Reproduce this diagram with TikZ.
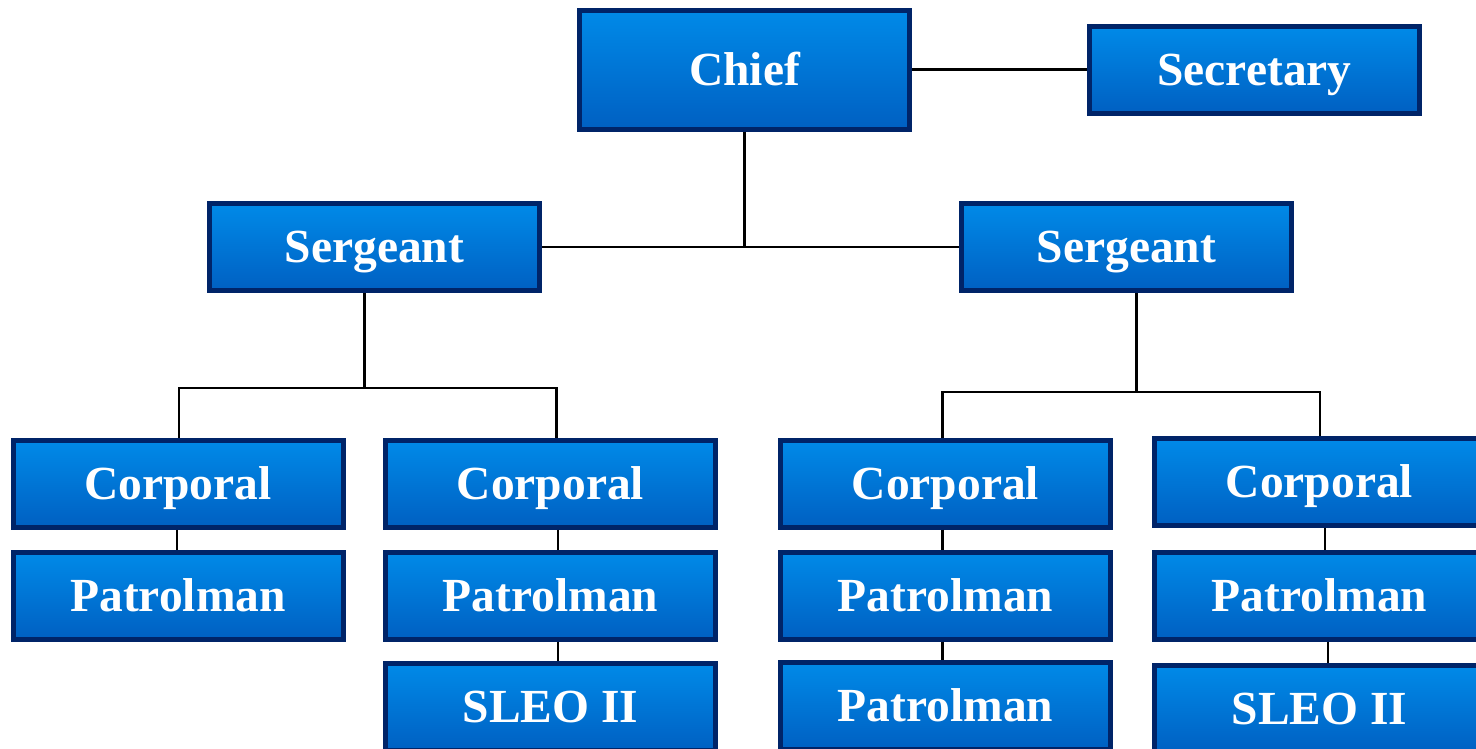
\documentclass[tikz,border=0pt]{standalone}
\usepackage{fontspec}
\setmainfont{Liberation Serif}
\usetikzlibrary{calc}
\definecolor{boxtop}{RGB}{0,138,232}
\definecolor{boxbot}{RGB}{0,96,194}
\definecolor{boxedge}{RGB}{0,36,104}
\tikzset{
  orgbox/.style={draw=boxedge, line width=5pt, top color=boxtop, bottom color=boxbot,
    minimum width=330pt, minimum height=87pt, inner sep=0pt,
    text height=31pt, text depth=0pt, text=white,
    font=\fontsize{47.5}{56}\selectfont\bfseries},
  link/.style={draw=black, line width=2.5pt}
}
\begin{document}
\begin{tikzpicture}[x=1pt,y=-1pt]
\useasboundingbox (0,0) rectangle (1476,748);
\node[orgbox, minimum height=119pt] (chief) at (744.5,69.5) {Chief};
\node[orgbox] (sec) at (1254.5,69.5) {Secretary};
\node[orgbox] (sgtL) at (374.5,247) {Sergeant};
\node[orgbox] (sgtR) at (1126.5,247) {Sergeant};
\node[orgbox] (c1) at (178,483.5) {Corporal};
\node[orgbox] (c2) at (550.5,483.5) {Corporal};
\node[orgbox] (c3) at (945.5,483.5) {Corporal};
\node[orgbox] (c4) at (1319.5,482) {Corporal};
\node[orgbox] (p1) at (178,595.5) {Patrolman};
\node[orgbox] (p2) at (550.5,595.5) {Patrolman};
\node[orgbox] (p3) at (945.5,595.5) {Patrolman};
\node[orgbox] (p4) at (1319.5,595.5) {Patrolman};
\node[orgbox] (s2) at (550.5,707) {SLEO II};
\node[orgbox] (p3b) at (945.5,706) {Patrolman};
\node[orgbox] (s4) at (1319.5,709) {SLEO II};
% connectors
\draw[link] (chief.east) -- (sec.west);
\draw[link] (sgtL.east) -- (sgtR.west);
\draw[link] (chief.south) -- (chief.south |- sgtL.east);
\draw[link] ($(sgtL.south)+(-10,0)$) -- ++(0,95) coordinate (bL);
\draw[link] ($(c1.north)+(1,0)$) |- (bL) -| ($(c2.north)+(6,0)$);
\draw[link] ($(sgtR.south)+(10,0)$) -- ++(0,99) coordinate (bR);
\draw[link] ($(c3.north)+(-3,0)$) |- (bR) -| ($(c4.north)+(0.5,0)$);
\draw[link] ($(c1.south)+(-1,0)$) -- ($(p1.north)+(-1,0)$);
\draw[link] ($(c2.south)+(7.5,0)$) -- ($(p2.north)+(7.5,0)$);
\draw[link] ($(c3.south)+(-3,0)$) -- ($(p3.north)+(-3,0)$);
\draw[link] ($(c4.south)+(5.5,0)$) -- ($(p4.north)+(5.5,0)$);
\draw[link] ($(p2.south)+(7.5,0)$) -- ($(s2.north)+(7.5,0)$);
\draw[link] ($(p3.south)+(-3,0)$) -- ($(p3b.north)+(-3,0)$);
\draw[link] ($(p4.south)+(8.5,0)$) -- ($(s4.north)+(8.5,0)$);
\end{tikzpicture}
\end{document}
